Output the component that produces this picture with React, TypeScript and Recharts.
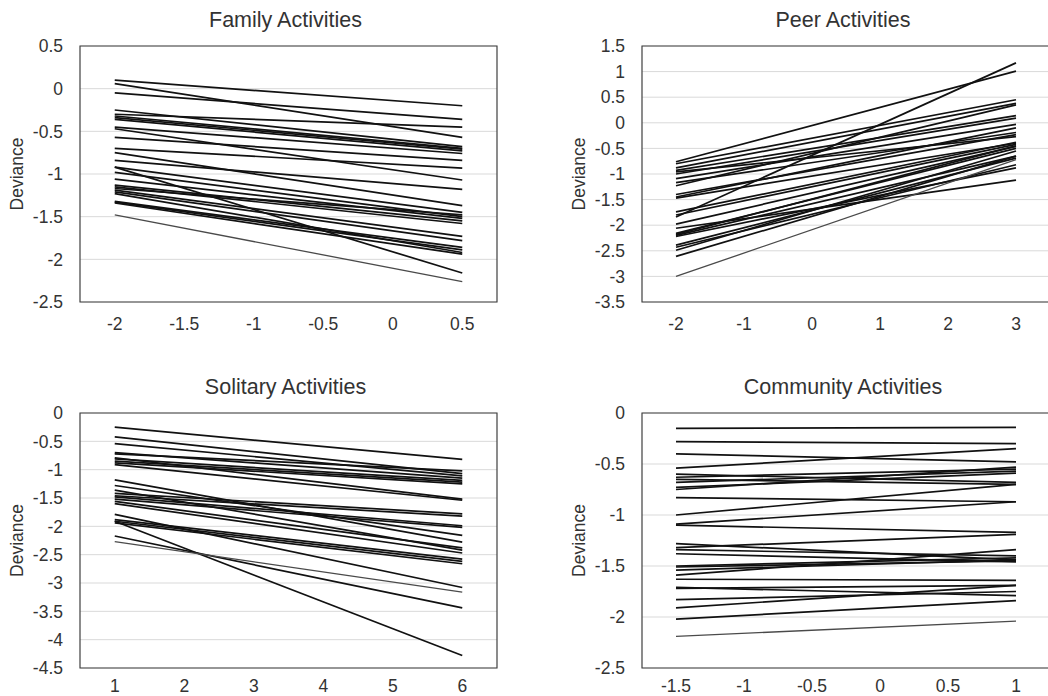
import { LineChart, Line, XAxis, YAxis, CartesianGrid, ReferenceArea } from 'recharts';

// Family Activities
const familyX = [-2, -1.5, -1, -0.5, 0, 0.5];
const familyY = [-2.5, -2, -1.5, -1, -0.5, 0, 0.5];
const familyStart = [0.10, 0.06, -0.05, -0.25, -0.30, -0.32, -0.34, -0.36, -0.45, -0.47, -0.57, -0.70, -0.75, -0.84, -0.92, -0.92, -0.98, -1.06, -1.13, -1.15, -1.17, -1.19, -1.21, -1.23, -1.32, -1.33, -1.34, -1.48];
const familyEnd = [-0.20, -0.57, -0.36, -0.68, -0.45, -0.70, -0.71, -0.73, -0.76, -1.07, -0.84, -0.93, -1.37, -1.18, -2.16, -1.45, -1.50, -1.52, -1.55, -1.58, -1.48, -1.73, -1.78, -1.92, -1.86, -1.89, -1.94, -2.26];

// Peer Activities
const peerX = [-2, -1, 0, 1, 2, 3];
const peerY = [-3.5, -3, -2.5, -2, -1.5, -1, -0.5, 0, 0.5, 1, 1.5];
const peerStart = [-0.76, -0.80, -0.88, -0.93, -0.96, -1.00, -1.09, -1.17, -1.23, -1.40, -1.45, -1.47, -1.74, -1.80, -1.84, -1.98, -2.06, -2.16, -2.18, -2.20, -2.22, -2.39, -2.43, -2.49, -2.61, -3.00];
const peerEnd = [1.01, 0.45, 0.38, 0.14, -0.27, 0.09, -0.03, -0.19, 0.35, -0.23, -0.10, -0.40, -0.38, -0.42, 1.17, -0.46, -1.12, -0.50, -0.45, -0.65, -0.88, -0.69, -0.82, -0.55, -0.65, -0.72];

// Solitary Activities
const solitaryX = [1, 2, 3, 4, 5, 6];
const solitaryY = [-4.5, -4, -3.5, -3, -2.5, -2, -1.5, -1, -0.5, 0];
const solitaryStart = [-0.25, -0.42, -0.54, -0.70, -0.72, -0.79, -0.81, -0.85, -0.88, -0.91, -1.18, -1.28, -1.36, -1.42, -1.46, -1.48, -1.52, -1.56, -1.60, -1.79, -1.88, -1.91, -1.91, -1.94, -2.17, -2.27];
const solitaryEnd = [-0.82, -1.07, -1.11, -1.15, -1.02, -1.52, -1.19, -1.22, -1.25, -1.54, -2.28, -2.16, -2.42, -1.78, -1.82, -1.99, -2.02, -2.38, -2.47, -3.08, -2.58, -4.28, -2.62, -2.66, -3.44, -3.16];

// Community Activities
const communityX = [-1.5, -1, -0.5, 0, 0.5, 1];
const communityY = [-2.5, -2, -1.5, -1, -0.5, 0];
const communityStart = [-0.15, -0.28, -0.40, -0.54, -0.60, -0.63, -0.65, -0.68, -0.73, -0.75, -0.83, -1.00, -1.09, -1.10, -1.28, -1.32, -1.34, -1.38, -1.50, -1.51, -1.54, -1.59, -1.63, -1.71, -1.72, -1.83, -1.91, -2.02, -2.19];
const communityEnd = [-0.14, -0.30, -0.48, -0.35, -0.68, -0.55, -0.70, -0.57, -0.59, -0.53, -0.87, -0.70, -0.87, -1.17, -1.44, -1.19, -1.40, -1.46, -1.42, -1.45, -1.44, -1.34, -1.64, -1.79, -1.69, -1.75, -1.69, -1.84, -2.04];

const FONT = '"Liberation Sans", Arial, sans-serif';
const TEXT = '#333';
const AXIS_W = 80;

interface PanelProps {
  title: string;
  xTicks: number[];
  yTicks: number[];
  starts: number[];
  ends: number[];
  left: number;
  top: number;
  width: number;
  height: number;
  margin: { top: number; right: number; bottom: number; left: number };
  tickGap?: number;
}

function Panel({ title, xTicks, yTicks, starts, ends, left, top, width, height, margin, tickGap = 10 }: PanelProps) {
  const first: Record<string, number> = { x: xTicks[0] };
  const last: Record<string, number> = { x: xTicks[xTicks.length - 1] };
  starts.forEach((v, i) => { first['s' + i] = v; });
  ends.forEach((v, i) => { last['s' + i] = v; });
  const data = [first, last];

  const step = xTicks[1] - xTicks[0];
  const xDomain = [xTicks[0] - step / 2, xTicks[xTicks.length - 1] + step / 2];
  const yDomain = [yTicks[0], yTicks[yTicks.length - 1]];

  const plotLeft = margin.left + AXIS_W;
  const plotWidth = width - plotLeft - margin.right;

  return (
    <div style={{ position: 'absolute', left, top, width, height }}>
      <div style={{
        position: 'absolute', left: plotLeft - 3, width: plotWidth, top: margin.top - 36,
        textAlign: 'center', fontSize: 21.5, lineHeight: '21.5px', color: TEXT,
      }}>
        {title}
      </div>
      <LineChart width={width} height={height} data={data} margin={margin}>
        <CartesianGrid vertical={false} stroke="#d9d9d9" />
        <XAxis
          dataKey="x" type="number" domain={xDomain} ticks={xTicks} interval={0}
          axisLine={false} tickLine={false} tickSize={6} tickMargin={tickGap} height={30}
          tick={{ fontSize: 17.5, fill: TEXT }}
        />
        <YAxis
          type="number" domain={yDomain} ticks={yTicks} interval={0} width={AXIS_W}
          axisLine={false} tickLine={false} tickSize={6} tickMargin={11}
          tick={{ fontSize: 17.5, fill: TEXT }}
          label={{ value: 'Deviance', angle: -90, position: 'insideLeft', offset: 17, style: { textAnchor: 'middle', fontSize: 17.5, fill: TEXT } }}
        />
        <ReferenceArea x1={xDomain[0]} x2={xDomain[1]} y1={yDomain[0]} y2={yDomain[1]} fill="none" stroke="#404040" strokeWidth={1.2} fillOpacity={0} />
        {starts.map((_, i) => (
          <Line
            key={i} dataKey={'s' + i} type="linear" dot={false} activeDot={false}
            stroke={i === starts.length - 1 ? '#4a4a4a' : '#111'}
            strokeWidth={i === starts.length - 1 ? 1.3 : 1.7}
            isAnimationActive={false}
          />
        ))}
      </LineChart>
    </div>
  );
}

export default function App() {
  const topM = { top: 46, right: 23, bottom: 8, left: 0 };
  const topMR = { top: 46, right: 10, bottom: 8, left: 42 };
  const botM = { top: 73, right: 23, bottom: 0, left: 0 };
  const botMR = { top: 73, right: 10, bottom: 0, left: 42 };
  return (
    <div style={{ position: 'absolute', left: 0, top: 0, width: 1048, height: 696, overflow: 'hidden', background: '#fff', fontFamily: FONT }}>
      <Panel title="Family Activities" xTicks={familyX} yTicks={familyY} starts={familyStart} ends={familyEnd}
        left={0} top={0} width={520} height={340} margin={topM} />
      <Panel title="Peer Activities" xTicks={peerX} yTicks={peerY} starts={peerStart} ends={peerEnd}
        left={520} top={0} width={540} height={340} margin={topMR} />
      <Panel title="Solitary Activities" xTicks={solitaryX} yTicks={solitaryY} starts={solitaryStart} ends={solitaryEnd}
        left={0} top={340} width={520} height={358} margin={botM} tickGap={6} />
      <Panel title="Community Activities" xTicks={communityX} yTicks={communityY} starts={communityStart} ends={communityEnd}
        left={520} top={340} width={540} height={358} margin={botMR} tickGap={6} />
    </div>
  );
}
